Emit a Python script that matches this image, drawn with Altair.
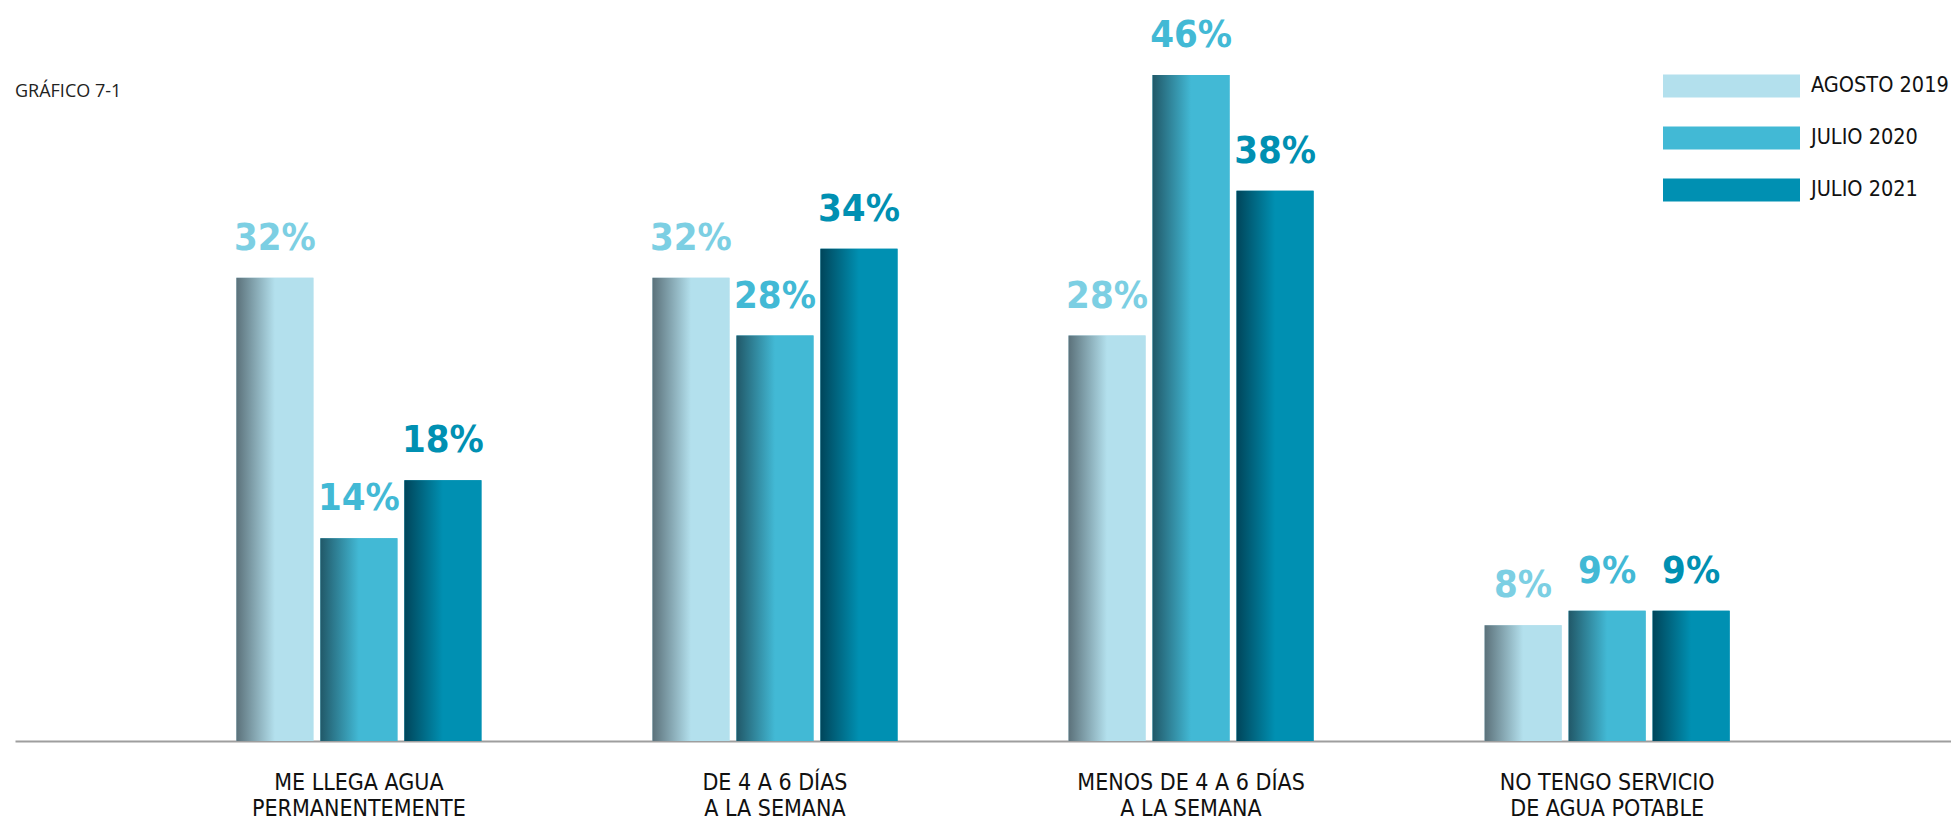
import altair as alt
import pandas as pd

categories = [
    "ME LLEGA AGUA|PERMANENTEMENTE",
    "DE 4 A 6 DÍAS|A LA SEMANA",
    "MENOS DE 4 A 6 DÍAS|A LA SEMANA",
    "NO TENGO SERVICIO|DE AGUA POTABLE",
]
series = ["AGOSTO 2019", "JULIO 2020", "JULIO 2021"]
agosto_2019 = [32, 32, 28, 8]
julio_2020 = [14, 28, 46, 9]
julio_2021 = [18, 34, 38, 9]

bar_colors = ["#b3e0ed", "#42b9d5", "#0090b2"]
label_colors = ["#7ccfe3", "#42b9d5", "#0090b2"]
dark_edges = ["#5b717a", "#215868", "#00455a"]

cond_font = "'DejaVu Sans Condensed', 'Liberation Sans Narrow', sans-serif"

rows = []
for s, vals in zip(series, [agosto_2019, julio_2020, julio_2021]):
    for c, v in zip(categories, vals):
        rows.append({"cat": c, "serie": s, "valor": v, "label": f"{v}%"})
df = pd.DataFrame(rows)

x = alt.X(
    "cat:N",
    sort=categories,
    scale=alt.Scale(domain=categories, paddingInner=0.411, paddingOuter=0.532),
    axis=alt.Axis(
        title=None,
        labelAngle=0,
        labelExpr="split(datum.label, '|')",
        ticks=False,
        domainColor="#9e9e9e",
        domainWidth=2,
        labelFont=cond_font,
        labelFontSize=23,
        labelLineHeight=26,
        labelPadding=30,
        labelColor="#111111",
        labelAlign="center",
        labelBaseline="top",
        labelLimit=400,
    ),
)
xoff = alt.XOffset("serie:N", sort=series,
                   scale=alt.Scale(domain=series, paddingInner=0.083, paddingOuter=0))
y = alt.Y("valor:Q", scale=alt.Scale(domain=[0, 50]), axis=None)

base = alt.Chart(df).mark_bar().encode(
    x=x,
    xOffset=xoff,
    y=y,
    color=alt.Color(
        "serie:N",
        sort=series,
        scale=alt.Scale(domain=series, range=bar_colors),
        legend=alt.Legend(
            title=None,
            orient="none",
            legendX=1648,
            legendY=54,
            symbolType="M-1,-0.168L1,-0.168L1,0.168L-1,0.168Z",
            symbolSize=18769,
            symbolStrokeWidth=0,
            symbolOpacity=1,
            clipHeight=30,
            rowPadding=22,
            labelOffset=11,
            labelFont=cond_font,
            labelFontSize=21.5,
            labelColor="#111111",
            labelLimit=300,
            padding=0,
            offset=0,
        ),
    ),
)

layers = [base]
for s, edge, col in zip(series, dark_edges, bar_colors):
    grad = alt.LinearGradient(
        gradient="linear", x1=0, x2=1, y1=0, y2=0,
        stops=[
            alt.GradientStop(offset=0, color=edge),
            alt.GradientStop(offset=0.5, color=col),
            alt.GradientStop(offset=1, color=col),
        ],
    )
    layers.append(
        alt.Chart(df)
        .transform_filter(alt.datum.serie == s)
        .mark_bar(fill=grad, opacity=1)
        .encode(x=x, xOffset=xoff, y=y)
    )

text = alt.Chart(df).mark_text(
    font=cond_font, fontWeight="bold", fontSize=38,
    baseline="alphabetic", align="center", dy=-28,
).encode(
    x=x,
    xOffset=xoff,
    y=y,
    text="label:N",
    fill=alt.Fill("serie:N", scale=alt.Scale(domain=series, range=label_colors), legend=None),
)
layers.append(text)

chart = alt.layer(*layers).properties(
    width=1936,
    height=724,
    padding={"left": 7, "top": 9, "right": 0, "bottom": 82},
    autosize=alt.AutoSizeParams(type="none"),
    title=alt.TitleParams(
        "GRÁFICO 7-1", anchor="start", frame="group", font="Open Sans",
        fontSize=18, fontWeight="normal", color="#222222", offset=0,
        baseline="middle", dy=93,
    ),
).configure_view(stroke=None)

chart.save("out.html", embed_options={"renderer": "svg", "actions": False})
